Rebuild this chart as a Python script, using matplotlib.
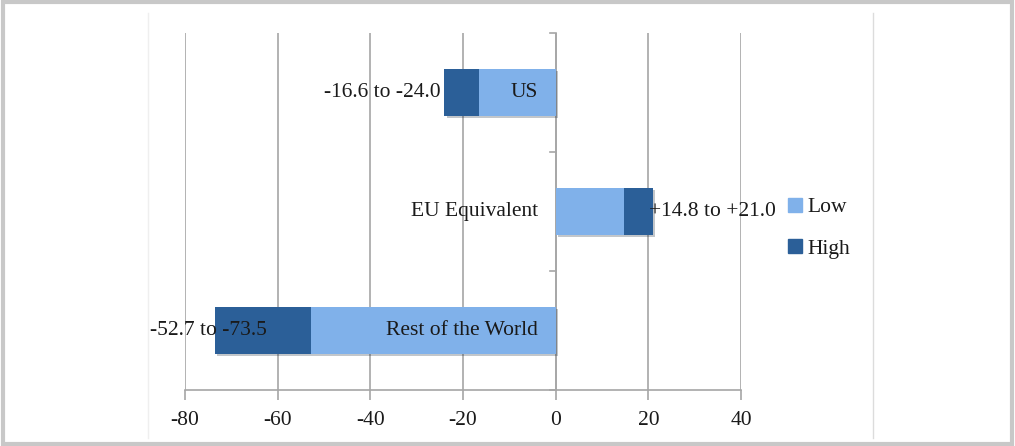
import matplotlib.pyplot as plt
from matplotlib import patheffects
from matplotlib.lines import Line2D

regions = ["Rest of the World", "EU Equivalent", "US"]
low_values = [-52.7, 14.8, -16.6]
high_values = [-73.5, 21.0, -24.0]
range_labels = ["-52.7 to -73.5", "+14.8 to +21.0", "-16.6 to -24.0"]
x_ticks = [-80, -60, -40, -20, 0, 20, 40]

LOW_COLOR = "#80b1ea"
HIGH_COLOR = "#2b5f98"
GRID_COLOR = "#a6a6a6"
TEXT_COLOR = "#1a1a1a"

plt.rcParams["font.family"] = ["Liberation Serif", "DejaVu Serif"]
plt.rcParams["font.size"] = 15.5

fig = plt.figure(figsize=(10.15, 4.46), dpi=100)
ax = fig.add_axes([185 / 1015, 1 - 390 / 446, (741 - 185) / 1015, (390 - 33) / 446])

shadow = [patheffects.SimplePatchShadow(offset=(1.5, -1.5), alpha=0.25), patheffects.Normal()]
ypos = list(range(len(regions)))

# full high estimate underneath, low estimate painted over it
ax.barh(ypos, high_values, height=0.4, color=HIGH_COLOR, path_effects=shadow, zorder=3)
ax.barh(ypos, low_values, height=0.4, color=LOW_COLOR, zorder=4)

for y, hi, name, rng in zip(ypos, high_values, regions, range_labels):
    ax.text(-3.8, y, name, ha="right", va="center", color=TEXT_COLOR, zorder=5)
    if hi > 0:
        ax.text(hi - 0.8, y, rng, ha="left", va="center", color=TEXT_COLOR, zorder=5)
    elif hi < -60:
        ax.text(hi - 1.5, y, rng, ha="center", va="center", color=TEXT_COLOR, zorder=5)
    else:
        ax.text(hi - 0.8, y, rng, ha="right", va="center", color=TEXT_COLOR, zorder=5)

ax.set_xlim(-80, 40)
ax.set_ylim(-0.5, 2.5)
ax.set_xticks(x_ticks)
ax.set_xticklabels([str(t) for t in x_ticks])
ax.set_yticks([])
ax.grid(axis="x", color=GRID_COLOR, linewidth=1.2, zorder=0)
ax.set_axisbelow(True)

for side in ["top", "right", "left"]:
    ax.spines[side].set_visible(False)
ax.spines["bottom"].set_color(GRID_COLOR)
ax.spines["bottom"].set_linewidth(1.2)
ax.tick_params(axis="x", length=7, width=1.2, color=GRID_COLOR, pad=8, labelsize=15.5,
               labelcolor=TEXT_COLOR)

# category axis sits at zero with short ticks between categories
ax.axvline(0, color=GRID_COLOR, linewidth=1.2, zorder=1)
for b in [-0.5, 0.5, 1.5, 2.5]:
    ax.plot([-1.2, 0], [b, b], color=GRID_COLOR, linewidth=1.2, clip_on=False, zorder=1)

handles = [
    Line2D([], [], marker="s", linestyle="none", markersize=10, color=LOW_COLOR),
    Line2D([], [], marker="s", linestyle="none", markersize=10, color=HIGH_COLOR),
]
fig.legend(handles, ["Low", "High"], loc="center left", bbox_to_anchor=(765 / 1015, 1 - 228 / 446),
           frameon=False, handletextpad=0.05, labelspacing=1.0, fontsize=15.5, handlelength=1.0,
           labelcolor=TEXT_COLOR)

# outer frame and chart area edges
fig.add_artist(plt.Rectangle((0.003, 0.005), 0.994, 0.99, transform=fig.transFigure,
                             fill=False, edgecolor="#c8c8c8", linewidth=3))
fig.add_artist(Line2D([148 / 1015] * 2, [1 - 438 / 446, 1 - 13 / 446], color="#efefef", linewidth=1))
fig.add_artist(Line2D([873 / 1015] * 2, [1 - 438 / 446, 1 - 13 / 446], color="#dcdcdc", linewidth=1))

fig.savefig("out.png", dpi=100)
